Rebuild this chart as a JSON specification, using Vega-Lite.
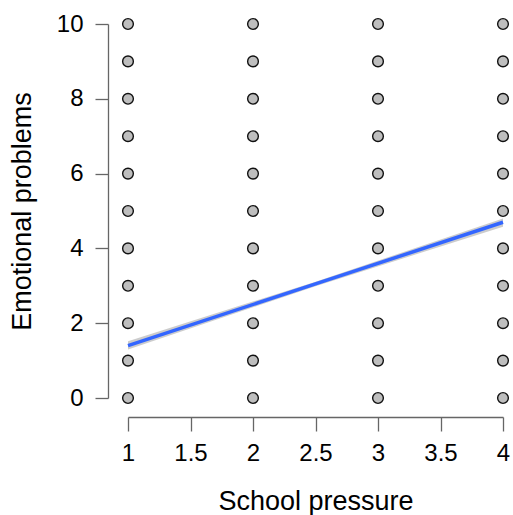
{
  "$schema": "https://vega.github.io/schema/vega-lite/v6.json",
  "autosize": "none",
  "width": 375,
  "height": 374,
  "padding": {"left": 128, "top": 24, "right": 10, "bottom": 117},
  "background": "white",
  "config": {
    "view": {"stroke": null},
    "font": "Liberation Sans",
    "axis": {
      "grid": false,
      "domainColor": "#666666",
      "tickColor": "#666666",
      "domainWidth": 1.3,
      "tickWidth": 1.3,
      "labelColor": "black",
      "titleColor": "black",
      "labelFont": "Liberation Sans",
      "titleFont": "Liberation Sans",
      "labelFontSize": 24,
      "titleFontSize": 27,
      "titleFontWeight": "normal"
    }
  },
  "datasets": {
    "pts": [
      {"pressure": 1, "emo": 0}, {"pressure": 1, "emo": 1}, {"pressure": 1, "emo": 2}, {"pressure": 1, "emo": 3}, {"pressure": 1, "emo": 4}, {"pressure": 1, "emo": 5}, {"pressure": 1, "emo": 6}, {"pressure": 1, "emo": 7}, {"pressure": 1, "emo": 8}, {"pressure": 1, "emo": 9}, {"pressure": 1, "emo": 10},
      {"pressure": 2, "emo": 0}, {"pressure": 2, "emo": 1}, {"pressure": 2, "emo": 2}, {"pressure": 2, "emo": 3}, {"pressure": 2, "emo": 4}, {"pressure": 2, "emo": 5}, {"pressure": 2, "emo": 6}, {"pressure": 2, "emo": 7}, {"pressure": 2, "emo": 8}, {"pressure": 2, "emo": 9}, {"pressure": 2, "emo": 10},
      {"pressure": 3, "emo": 0}, {"pressure": 3, "emo": 1}, {"pressure": 3, "emo": 2}, {"pressure": 3, "emo": 3}, {"pressure": 3, "emo": 4}, {"pressure": 3, "emo": 5}, {"pressure": 3, "emo": 6}, {"pressure": 3, "emo": 7}, {"pressure": 3, "emo": 8}, {"pressure": 3, "emo": 9}, {"pressure": 3, "emo": 10},
      {"pressure": 4, "emo": 0}, {"pressure": 4, "emo": 1}, {"pressure": 4, "emo": 2}, {"pressure": 4, "emo": 3}, {"pressure": 4, "emo": 4}, {"pressure": 4, "emo": 5}, {"pressure": 4, "emo": 6}, {"pressure": 4, "emo": 7}, {"pressure": 4, "emo": 8}, {"pressure": 4, "emo": 9}, {"pressure": 4, "emo": 10}
    ],
    "fit": [
      {"pressure": 1, "fit": 1.4, "lo": 1.3, "hi": 1.52},
      {"pressure": 2.5, "fit": 3.05, "lo": 2.99, "hi": 3.11},
      {"pressure": 4, "fit": 4.7, "lo": 4.58, "hi": 4.8}
    ]
  },
  "layer": [
    {
      "data": {"name": "pts"},
      "mark": {"type": "point", "filled": true, "fill": "#bebebe", "stroke": "#111111", "strokeWidth": 1.4, "size": 115, "opacity": 1},
      "encoding": {
        "x": {
          "field": "pressure", "type": "quantitative",
          "scale": {"domain": [1, 4], "nice": false, "zero": false},
          "axis": {"title": "School pressure", "values": [1, 1.5, 2, 2.5, 3, 3.5, 4], "format": "~g", "offset": 19, "tickSize": 14, "labelPadding": 10, "titlePadding": 23, "labelFlush": false, "labelOverlap": false}
        },
        "y": {
          "field": "emo", "type": "quantitative",
          "scale": {"domain": [0, 10], "nice": false, "zero": false},
          "axis": {"title": "Emotional problems", "values": [0, 2, 4, 6, 8, 10], "offset": 20, "tickSize": 13, "labelPadding": 12, "titlePadding": 20, "labelFlush": false, "labelOverlap": false}
        }
      }
    },
    {
      "data": {"name": "fit"},
      "mark": {"type": "area", "color": "#999999", "opacity": 0.5},
      "encoding": {
        "x": {"field": "pressure", "type": "quantitative"},
        "y": {"field": "lo", "type": "quantitative"},
        "y2": {"field": "hi"}
      }
    },
    {
      "data": {"name": "fit"},
      "mark": {"type": "line", "color": "#3366FF", "strokeWidth": 3.5},
      "encoding": {
        "x": {"field": "pressure", "type": "quantitative"},
        "y": {"field": "fit", "type": "quantitative"}
      }
    }
  ]
}
